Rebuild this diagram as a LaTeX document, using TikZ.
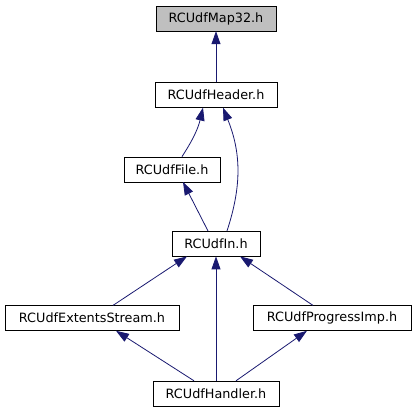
\documentclass[tikz,border=0pt]{standalone}
\usepackage{fontspec}
\setmainfont{DejaVu Sans}
\usetikzlibrary{arrows.meta,positioning}
\definecolor{EdgeBlue}{RGB}{25,25,112}
\definecolor{RootGray}{RGB}{191,191,191}

\begin{document}
\begin{tikzpicture}[
  x=1pt, y=1pt,
  node distance=49pt and 8pt,
  header/.style={
    rectangle,
    draw=black,
    fill=white,
    inner xsep=2pt,
    minimum height=25pt,
    font=\fontsize{12.8}{14}\selectfont
  },
  root/.style={
    header,
    fill=RootGray
  },
  edge/.style={-{Triangle[length=13pt,width=9pt]}, draw=EdgeBlue, line width=0.8pt}
]
\useasboundingbox (0,0) rectangle (416,411);
\node[root, minimum width=120pt] (map) at (216,392.5) {RCUdfMap32.h};
\node[header, minimum width=122pt, below=51pt of map] (hdr) {RCUdfHeader.h};
\node[header, minimum width=96pt, below=of hdr, xshift=-44pt] (file) {RCUdfFile.h};
\node[header, minimum width=88pt, below=of file, xshift=44pt] (in) {RCUdfIn.h};
\node[header, minimum width=174pt, below=of in, xshift=-124pt] (ext) {RCUdfExtentsStream.h};
\node[header, minimum width=158pt, below=of in, xshift=116pt] (prog) {RCUdfProgressImp.h};
\node[header, minimum width=126pt, below=50pt of ext, xshift=124pt] (handler) {RCUdfHandler.h};

\draw[edge] (hdr) -- (map);
\draw[edge] ([xshift=10pt]file.north) to[bend right=10] ([xshift=-13pt]hdr.south);
\draw[edge] ([xshift=11pt]in.north) to[bend right=20] ([xshift=7pt]hdr.south);
\draw[edge] ([xshift=-8pt]in.north) -- ([xshift=11pt]file.south);
\draw[edge] ([xshift=21pt]ext.north) -- ([xshift=-29pt]in.south);
\draw[edge] (handler) -- (in);
\draw[edge] ([xshift=-19pt]prog.north) -- ([xshift=24pt]in.south);
\draw[edge] ([xshift=-22pt]handler.north) -- ([xshift=24pt]ext.south);
\draw[edge] ([xshift=20pt]handler.north) -- ([xshift=-25pt]prog.south);
\end{tikzpicture}
\end{document}
